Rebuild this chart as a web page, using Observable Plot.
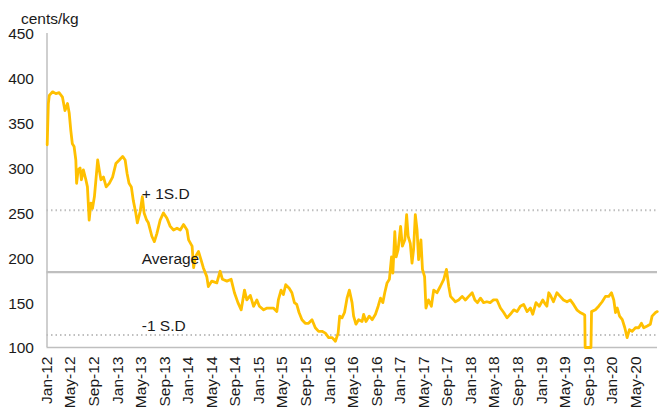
<!DOCTYPE html>
<html>
<head>
<meta charset="utf-8">
<script src="https://cdn.jsdelivr.net/npm/d3@7"></script>
<script src="https://cdn.jsdelivr.net/npm/@observablehq/plot@0.6"></script>
<style>
  html, body { margin: 0; padding: 0; background: #fff; }
</style>
</head>
<body>
<div id="chart"></div>
<script>
// Price series (cents/kg)
const dates = [
  "2012-01-02","2012-01-04","2012-01-08","2012-01-13","2012-01-30","2012-02-16","2012-03-04","2012-03-21","2012-04-03","2012-04-16","2012-04-25","2012-05-03","2012-05-11","2012-05-20","2012-05-29","2012-06-02","2012-06-10","2012-06-20","2012-06-27","2012-07-07","2012-07-20","2012-07-28","2012-08-06","2012-08-15","2012-08-23","2012-09-02","2012-09-10","2012-09-19","2012-09-27","2012-10-06","2012-10-19","2012-11-02","2012-11-18","2012-12-05","2012-12-22",
  "2013-01-09","2013-01-26","2013-02-08","2013-02-18","2013-02-28","2013-03-12","2013-03-22","2013-04-04","2013-04-12","2013-04-26","2013-05-08","2013-05-17","2013-05-30","2013-06-08","2013-06-26","2013-07-09","2013-07-22","2013-08-08","2013-08-25","2013-09-12","2013-09-29","2013-10-16","2013-11-03","2013-11-20","2013-12-07","2013-12-25",
  "2014-01-02","2014-01-20","2014-01-28","2014-02-06","2014-02-22","2014-03-07","2014-03-19","2014-04-06","2014-04-14","2014-05-02","2014-05-28","2014-06-14","2014-06-26","2014-07-19","2014-08-10","2014-08-27","2014-09-14","2014-10-01","2014-10-18","2014-10-30","2014-11-17","2014-12-04","2014-12-21",
  "2015-01-03","2015-01-25","2015-02-12","2015-02-28","2015-03-16","2015-04-03","2015-04-11","2015-04-25","2015-05-07","2015-05-19","2015-06-06","2015-06-20","2015-07-03","2015-07-15","2015-07-27","2015-08-11","2015-08-28","2015-09-14","2015-10-02","2015-10-19","2015-11-05","2015-11-23","2015-12-10","2015-12-27",
  "2016-01-14","2016-01-31","2016-02-14","2016-02-22","2016-03-05","2016-03-18","2016-03-31","2016-04-12","2016-04-26","2016-05-04","2016-05-16","2016-05-30","2016-06-17","2016-06-25","2016-07-07","2016-07-24","2016-08-08","2016-08-25","2016-09-08","2016-09-20","2016-10-02","2016-10-12","2016-10-24","2016-11-05","2016-11-16","2016-11-23","2016-12-03","2016-12-10","2016-12-20",
  "2017-01-02","2017-01-11","2017-01-24","2017-02-02","2017-02-10","2017-02-21","2017-03-02","2017-03-10","2017-03-19","2017-03-28","2017-04-05","2017-04-17","2017-04-25","2017-05-06","2017-05-13","2017-05-26","2017-06-10","2017-06-22","2017-07-09","2017-07-26","2017-08-13","2017-08-27","2017-09-08","2017-09-17","2017-10-12","2017-10-29","2017-11-16","2017-12-03","2017-12-20",
  "2018-01-07","2018-01-21","2018-02-03","2018-02-19","2018-03-07","2018-03-24","2018-04-10","2018-04-27","2018-05-15","2018-06-02","2018-06-19","2018-07-06","2018-07-23","2018-08-10","2018-08-27","2018-09-13","2018-09-30","2018-10-18","2018-11-04","2018-11-16","2018-12-03","2018-12-20",
  "2019-01-07","2019-01-21","2019-01-28","2019-02-07","2019-02-16","2019-03-03","2019-03-21","2019-04-07","2019-04-24","2019-05-12","2019-05-29","2019-06-15","2019-07-02","2019-07-19","2019-08-06","2019-08-12","2019-08-14","2019-09-13","2019-09-16","2019-10-06","2019-10-23","2019-11-10","2019-11-27","2019-12-14","2019-12-28",
  "2020-01-09","2020-01-18","2020-01-27","2020-02-08","2020-02-22","2020-03-06","2020-03-18","2020-03-30","2020-04-13","2020-04-30","2020-05-17","2020-05-31","2020-06-12","2020-06-30","2020-07-16","2020-07-25","2020-08-12","2020-08-21"
];
const prices = [
  326,342,372,381,385,383,384,379,364,372,361,342,327,324,309,283,298,300,287,298,287,279,242,261,255,268,287,309,298,287,290,279,283,290,305,
  309,313,309,294,283,279,264,250,239,251,268,250,242,239,224,218,227,242,250,244,235,231,233,231,237,231,
  220,213,189,201,207,198,189,179,168,174,172,185,176,174,176,161,150,142,164,153,158,146,153,
  146,142,144,144,144,140,153,164,159,170,166,161,150,148,139,131,127,127,131,122,118,118,116,111,
  111,107,116,135,133,139,155,164,150,135,126,131,129,137,129,135,131,137,146,155,150,161,172,176,201,183,229,201,209,
  235,213,220,248,224,216,194,209,248,231,198,220,187,179,144,153,146,164,161,168,176,187,168,157,151,153,157,153,157,
  161,153,150,155,150,151,150,153,153,144,139,133,137,142,140,146,148,140,144,137,150,146,
  153,148,146,161,158,151,161,157,153,151,153,148,142,139,137,136,100,100,140,142,146,151,157,157,161,
  153,139,144,135,131,122,111,120,118,122,122,127,122,124,126,135,139,140
];

// Reference levels
const refLabels = ["+ 1S.D", "Average", "-1 S.D"];
const refValues = [253, 184, 114];
const refDashed = [true, false, true];

// Axis settings
const yTicks = [100, 150, 200, 250, 300, 350, 400, 450];
const xDomain = ["2012-01-01", "2020-08-22"];
const yLabel = "cents/kg";

const series = dates.map((d, i) => ({date: new Date(d), value: prices[i]}));
const refs = refLabels.map((label, i) => ({label, value: refValues[i], dashed: refDashed[i]}));
const x0 = new Date(xDomain[0]);
const labelDate = new Date("2013-05-05");
const labelDy = [-16, -13, -9];

const fmt = d3.utcFormat("%b-%y");

const chart = Plot.plot({
  width: 659,
  height: 412,
  marginLeft: 46.5,
  marginRight: 2,
  marginTop: 33,
  marginBottom: 65,
  style: {fontFamily: "'Liberation Sans', Arial, sans-serif", fontSize: "15.5px", color: "#1a1a1a", background: "#fff"},
  x: {type: "utc", domain: xDomain.map(d => new Date(d))},
  y: {domain: [100, 450]},
  marks: [
    Plot.ruleY(refs.filter(r => r.dashed), {y: "value", stroke: "#bfbfbf", strokeWidth: 2, strokeDasharray: "1.5,3"}),
    Plot.ruleY(refs.filter(r => !r.dashed), {y: "value", stroke: "#bfbfbf", strokeWidth: 2.2}),
    Plot.ruleY([100], {stroke: "#bfbfbf", strokeWidth: 1.5}),
    Plot.ruleX([x0], {stroke: "#bfbfbf", strokeWidth: 1.5}),
    Plot.line(series, {x: "date", y: "value", stroke: "#ffc000", strokeWidth: 2.8, strokeLinejoin: "round"}),
    ...refs.map((r, i) => Plot.text([r], {x: () => labelDate, y: "value", text: "label", textAnchor: "start", dy: labelDy[i], fill: "#1a1a1a"})),
    Plot.text([yLabel], {frameAnchor: "top-left", text: d => d, textAnchor: "start", dx: -26, dy: -21, fill: "#1a1a1a"}),
    Plot.axisY({ticks: yTicks, tickSize: 0, tickPadding: 13, label: null, dy: 1}),
    Plot.axisX({ticks: d3.utcMonth.every(4), tickFormat: fmt, tickRotate: -90, tickSize: 0, tickPadding: 9, label: null})
  ]
});
document.getElementById("chart").appendChild(chart);
</script>
</body>
</html>
